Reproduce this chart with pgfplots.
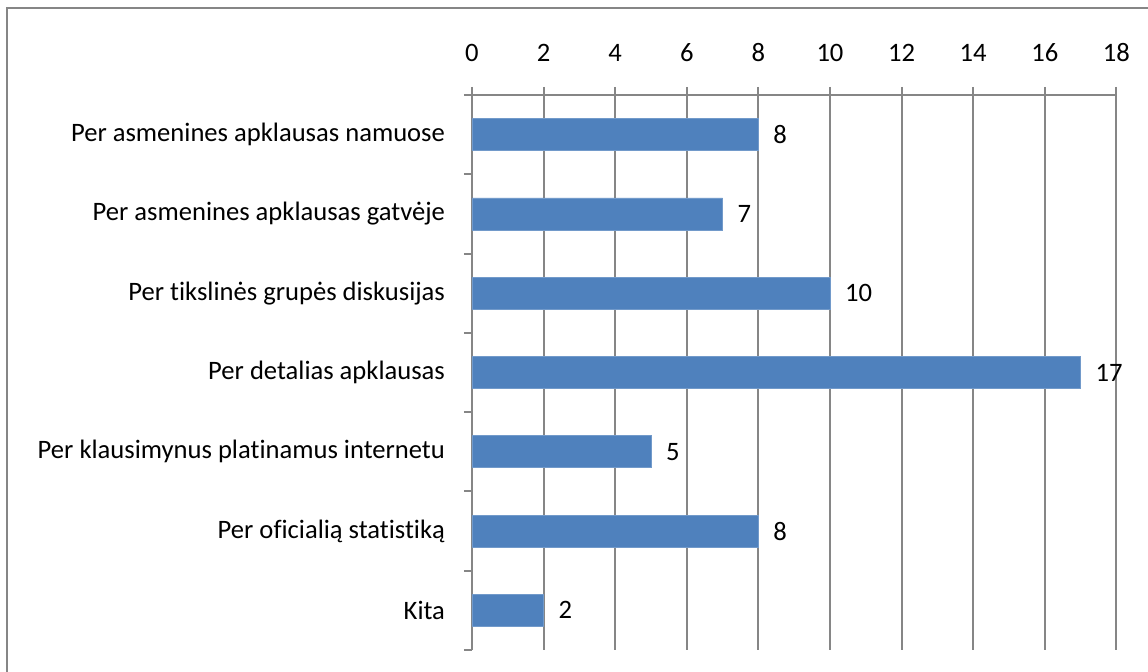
\documentclass[border=0pt]{standalone}
\usepackage{fontspec}
\setmainfont{Carlito}[Ligatures={NoCommon}]
\usepackage{pgfplots}
\pgfplotsset{compat=1.18}
\definecolor{barblue}{HTML}{4F81BD}
\definecolor{gridgray}{HTML}{868686}
\begin{document}
\begin{tikzpicture}
\useasboundingbox (-236pt,-11pt) rectangle (338pt,325pt);
\draw[gridgray, line width=1pt] (-232.5pt,-12pt) -- (-232.5pt,321pt) -- (339pt,321pt);
\begin{axis}[
  at={(0,0)}, anchor=south west,
  scale only axis,
  width=322.2pt, height=277.5pt,
  xbar, bar width=16pt,
  xmin=0, xmax=18,
  xtick={0,2,...,18},
  ymin=-0.5, ymax=6.5,
  ytick={0,...,6},
  yticklabels={Kita, Per oficialią statistiką, Per klausimynus platinamus internetu, Per detalias apklausas, Per tikslinės grupės diskusijas, Per asmenines apklausas gatvėje, Per asmenines apklausas namuose},
  minor ytick={-0.5,0.5,...,6.5},
  axis x line*=top,
  axis y line*=left,
  x axis line style={-, gridgray, line width=1pt},
  y axis line style={-, gridgray, line width=1pt},
  tick align=outside,
  major tick length=4pt,
  minor tick length=4pt,
  ytick style={draw=none},
  minor y tick style={draw=gridgray, line width=1pt},
  xtick style={gridgray, line width=1pt},
  xmajorgrids,
  grid style={gridgray, line width=1pt},
  /pgf/number format/assume math mode=true,
  tick label style={font=\fontsize{13.3}{16}\selectfont, text=black},
  xticklabel shift=9pt,
  yticklabel shift=6pt,
  nodes near coords,
  nodes near coords align={horizontal},
  every node near coord/.append style={font=\fontsize{13.3}{16}\selectfont, text=black, xshift=4pt},
]
\addplot[fill=barblue, draw=barblue!80!white] coordinates {
  (2,0) (8,1) (5,2) (17,3) (10,4) (7,5) (8,6)
};
\end{axis}
\end{tikzpicture}
\end{document}
